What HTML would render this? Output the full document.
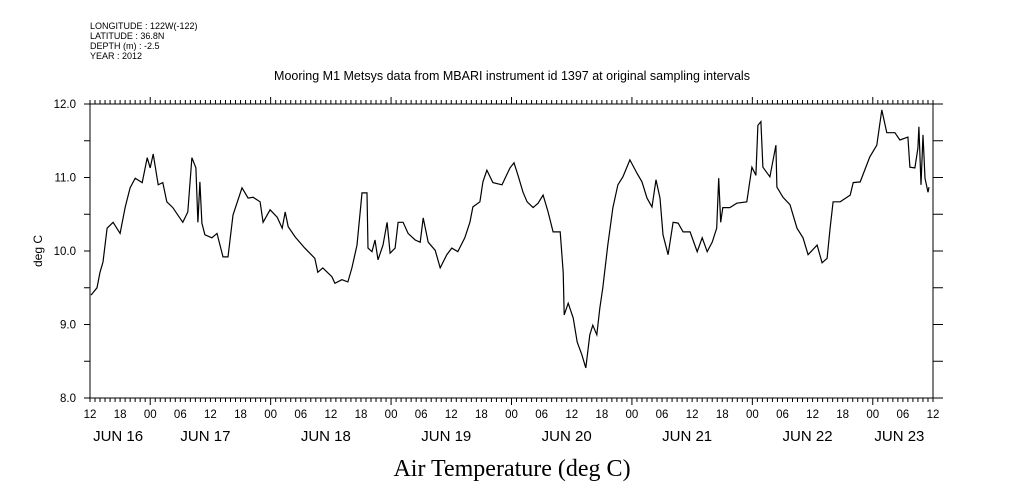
<!DOCTYPE html>
<html><head><meta charset="utf-8"><style>
html,body{margin:0;padding:0;background:#fff;}
svg{display:block;font-family:"Liberation Sans",sans-serif;}
</style></head><body>
<svg id="chart" width="1009" height="504" viewBox="0 0 1009 504">
<g font-size="9" fill="#000">
<text x="90" y="29">LONGITUDE : 122W(-122)</text>
<text x="90" y="39">LATITUDE : 36.8N</text>
<text x="90" y="49">DEPTH (m) : -2.5</text>
<text x="90" y="59">YEAR : 2012</text>
</g>
<text x="512" y="80" text-anchor="middle" font-size="12.5">Mooring M1 Metsys data from MBARI instrument id 1397 at original sampling intervals</text>
<text transform="translate(42,251) rotate(-90)" text-anchor="middle" font-size="12">deg C</text>
<text x="512" y="476" text-anchor="middle" font-size="24" font-family="Liberation Serif,serif">Air Temperature (deg C)</text>
<g id="axes"></g>
<g id="ticks"></g>
<path id="line" fill="none" stroke="#000" stroke-width="1.2"/>
</svg>
<script>
const hours=[0.2,1.4,2.0,2.6,3.4,4.6,6.0,7.0,8.0,9.0,10.4,11.4,12.0,12.6,13.6,14.5,15.3,16.5,18.5,19.5,20.3,21.1,21.5,21.9,22.3,22.9,24.3,25.3,26.5,27.5,28.5,30.3,31.5,32.5,33.9,34.5,35.9,37.3,38.3,38.9,39.5,40.9,42.8,44.8,45.4,46.4,48.2,48.8,50.2,51.4,52.2,53.2,54.2,55.2,55.4,56.2,56.8,57.4,58.4,59.2,59.8,60.8,61.4,62.4,63.4,64.8,65.8,66.4,67.4,68.8,69.8,71.1,72.1,73.3,74.7,75.7,76.3,77.7,78.3,79.1,80.3,82.1,83.7,84.5,85.3,86.3,87.1,88.3,89.3,90.3,91.3,92.3,93.7,94.3,94.5,95.3,96.3,97.1,98.0,98.8,99.6,100.2,101.0,101.6,102.2,103.2,104.2,105.2,106.2,107.6,109.0,110.0,111.0,112.0,112.8,113.6,114.2,115.2,116.2,117.2,118.2,119.6,121.0,122.0,123.0,124.0,124.9,125.3,125.7,126.1,127.5,128.9,130.9,131.9,132.7,133.1,133.7,134.1,135.5,136.7,136.9,138.1,139.5,140.9,142.1,143.1,144.9,145.9,146.9,147.5,148.1,149.5,151.5,152.1,153.5,155.4,156.8,157.8,158.8,160.4,161.4,163.0,163.4,164.4,165.0,165.2,165.6,166.0,166.4,167.0,167.2];
const temps=[9.40,9.50,9.71,9.85,10.31,10.39,10.24,10.59,10.86,10.99,10.93,11.27,11.13,11.32,10.90,10.93,10.67,10.59,10.39,10.53,11.27,11.13,10.39,10.94,10.38,10.22,10.18,10.24,9.92,9.92,10.49,10.86,10.72,10.73,10.67,10.39,10.56,10.46,10.31,10.53,10.33,10.19,10.04,9.90,9.71,9.77,9.65,9.56,9.61,9.58,9.77,10.08,10.79,10.79,10.04,9.99,10.15,9.88,10.08,10.39,9.97,10.04,10.39,10.39,10.24,10.15,10.12,10.45,10.12,10.01,9.77,9.95,10.04,9.99,10.18,10.39,10.60,10.67,10.94,11.10,10.93,10.90,11.13,11.20,11.03,10.80,10.67,10.59,10.65,10.76,10.53,10.26,10.26,9.71,9.13,9.29,9.09,8.76,8.59,8.41,8.86,8.99,8.86,9.22,9.50,10.08,10.59,10.90,11.01,11.24,11.06,10.94,10.72,10.60,10.97,10.72,10.22,9.95,10.39,10.38,10.26,10.26,9.99,10.18,9.99,10.12,10.31,10.99,10.39,10.59,10.59,10.65,10.67,11.14,11.03,11.71,11.76,11.14,11.01,11.44,10.87,10.73,10.63,10.31,10.18,9.95,10.08,9.84,9.90,10.31,10.67,10.67,10.76,10.93,10.94,11.28,11.44,11.92,11.61,11.61,11.51,11.55,11.14,11.13,11.40,11.69,10.90,11.58,10.99,10.80,10.87];
const hourLabels=["12","18","00","06","12","18","00","06","12","18","00","06","12","18","00","06","12","18","00","06","12","18","00","06","12","18","00","06","12"];
const dateLabels=["JUN 16","JUN 17","JUN 18","JUN 19","JUN 20","JUN 21","JUN 22","JUN 23"];
const dateHours=[5.6,23,47,71,95,119,143,161.3];
const yTicks=["8.0","9.0","10.0","11.0","12.0"];

const L=90,R=933,T=104,B=398,H0=0,H1=168,Y0=8,Y1=12;
const xs=h=>L+(h-H0)/(H1-H0)*(R-L);
const ys=v=>B-(v-Y0)/(Y1-Y0)*(B-T);
const NS="http://www.w3.org/2000/svg";
const axes=document.getElementById('axes'),tk=document.getElementById('ticks');
function mk(tag,attrs,parent){const e=document.createElementNS(NS,tag);for(const k in attrs)e.setAttribute(k,attrs[k]);parent.appendChild(e);return e;}
const frame=mk('rect',{x:L,y:T,width:R-L,height:B-T,fill:'none',stroke:'#000','stroke-width':1},axes);


let d='';
for(let h=0;h<=168;h++){
  const x=xs(h);const major=(h%24===12);const long=major?7:4;
  d+=`M${x} ${T}V${T-long}M${x} ${B}V${B+long}`;
}
for(let v=8;v<=12.001;v+=0.5){const y=ys(v);d+=`M${L} ${y}H${L-6}M${R} ${y}H${R+10}`;}
const tp=mk('path',{d:d,stroke:'#000','stroke-width':1,fill:'none'},tk);


hourLabels.forEach((s,i)=>{
  const t=mk('text',{x:xs(i*6),y:418,'text-anchor':'middle','font-size':11.5},tk);t.textContent=s;
  
  
});
dateLabels.forEach((s,i)=>{
  const t=mk('text',{x:xs(dateHours[i]),y:441,'text-anchor':'middle','font-size':15},tk);t.textContent=s;
  
  
});
yTicks.forEach(s=>{
  const t=mk('text',{x:76,y:ys(parseFloat(s))+4,'text-anchor':'end','font-size':11.5},tk);t.textContent=s;
  
  
});
document.getElementById('line').setAttribute('d',hours.map((h,i)=>(i?'L':'M')+xs(h).toFixed(1)+' '+ys(temps[i]).toFixed(1)).join(''));
</script>
</body></html>
